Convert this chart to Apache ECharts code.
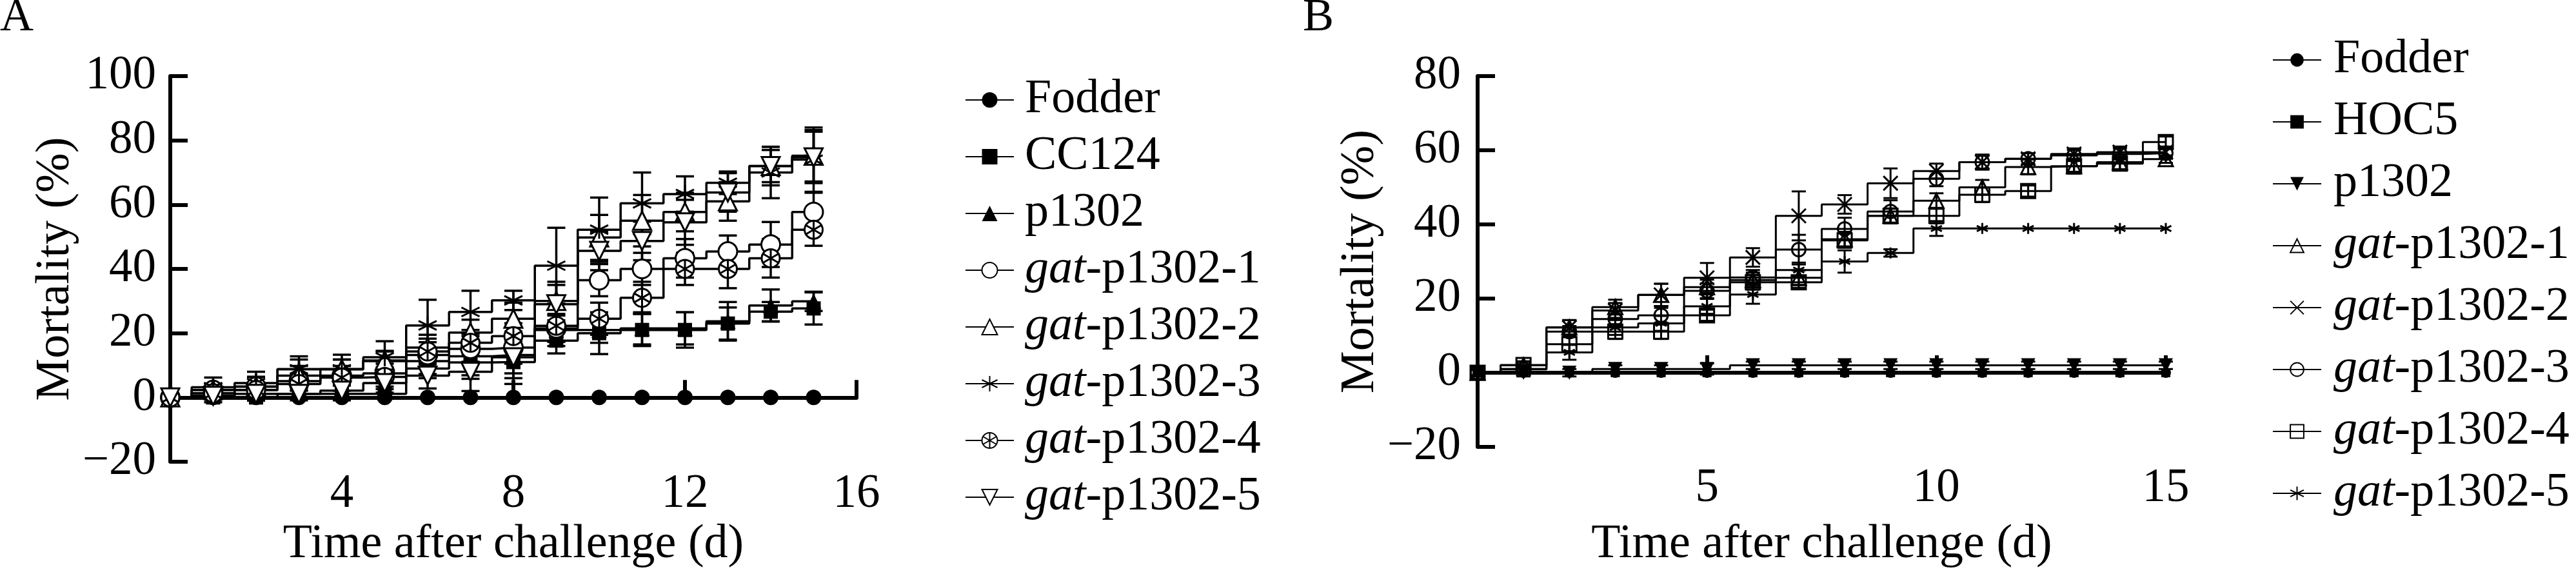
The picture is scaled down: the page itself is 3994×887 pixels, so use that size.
<!DOCTYPE html>
<html><head><meta charset="utf-8">
<script src="https://cdn.jsdelivr.net/npm/echarts@6/dist/echarts.min.js"></script>
<style>html,body{margin:0;padding:0;background:#fff}#c{width:3994px;height:887px}</style>
</head><body><div id="c"></div>
<script>
// ---------- data ----------
const days = [0,1,2,3,4,5,6,7,8,9,10,11,12,13,14,15];
const xTicksA = [0,4,8,12,16];
const yTicksA = [-20,0,20,40,60,80,100];
const xTicksB = [0,5,10,15];
const yTicksB = [-20,0,20,40,60,80];
const xTitle = 'Time after challenge (d)';
const yTitle = 'Mortality (%)';
const panelLabels = ['A', 'B'];

const namesA = ['Fodder','CC124','p1302','gat-p1302-1','gat-p1302-2','gat-p1302-3','gat-p1302-4','gat-p1302-5'];
const aFodder = [0,0,0,0,0,0,0,0,0,0,0,0,0,0,0,0];
const aCC124  = [0,0,0,1.1,1.1,1.1,9,10.9,11,17.7,20,21,21,23,26.7,27.7];
const aP1302  = [0,1.3,2.3,8.8,8.8,11.3,11.3,12.8,13.2,21,21,21.5,21.5,23.7,28.6,29.9];
const aGat1   = [0,2.3,3.4,5.1,6.8,7.5,13.2,15.1,15.5,21.5,36.5,40,43.3,45.4,47.6,57.7];
const aGat2   = [0,2.3,3.4,6.8,8.8,11.5,15.5,20.2,24.5,30,49.8,55,57.7,61,72,75.2];
const aGat3   = [0,3.2,4.5,8.8,8.8,12.5,22.4,26.6,30.2,41,52.2,60.4,63.3,66.8,70,74];
const aGat4   = [0,1.3,2.3,4.2,6.2,6.4,14.3,17,19.1,22.3,24.5,31,40,40,43.3,52.2];
const aGat5   = [0,0.5,1.1,1.1,2.1,4.5,6.8,8,12.5,29,45.6,48.7,54.5,63.8,72,74.7];
// standard errors, panel A
const aFodderErr = [0,0,0,0,0,0,0,0,0,0,0,0,0,0,0,0];
const aCC124Err  = [0,0.5,1,1,1,1.5,3,4,5,4,6.5,5,5.5,5,3,5];
const aP1302Err  = [0,1,1.5,3,3,3,4,7,9,5,4,5,5,6,5,3];
const aGat1Err   = [0,2,3,2,3,3,4,4,5,4,5,5,6,5,7,6];
const aGat2Err   = [0,2,3,3,3,3,4,4,5,6,7,8,6,6,5,8];
const aGat3Err   = [0,3,3.5,4,4.5,5,8,6.6,3,11.8,10,9.6,5.5,3.5,8,10];
const aGat4Err   = [0,2,2,2,2.5,3,4,4,4,5,5,5,5,6,6,5];
const aGat5Err   = [0,2,2,2,3,3,4,6,5,6,6,6,7,6,6,8];

const namesB = ['Fodder','HOC5','p1302','gat-p1302-1','gat-p1302-2','gat-p1302-3','gat-p1302-4','gat-p1302-5'];
const bFodder = [0,0,0,0,0,0,0,0,0,0,0,0,0,0,0,0];
const bHOC5   = [0,0,0,0,0,0,0,0,0,0,0,0,0,0,0,0];
const bP1302  = [0,0,0,1,1,1,2,2,2,2,2,2,2,2,2,2];
const bGat1   = [0,2,12.2,17.7,21,23.1,25,25.6,36,42.3,46.4,50,55.5,55.7,56.8,57.6];
const bGat2   = [0,1,12.2,16.8,21,25.6,31.1,42.3,45.4,51.1,54.4,56.8,57.7,59,59.5,59.5];
const bGat3   = [0,1,11.1,14.5,15.5,22.1,25.7,33.2,38.8,43.5,52.3,56.8,57.7,58.6,59,59.2];
const bGat4   = [0,2.1,7.7,11.1,11.1,15.5,24.4,24.4,35.7,42.3,42.3,48,49,55.7,56.4,62.2];
const bGat5   = [0,0.9,5.5,12.2,13.3,17.9,21.1,27.7,30,32.3,38.9,38.9,38.9,38.9,38.9,38.9];
// standard errors, panel B
const bFodderErr = [0,0,0,0,0,0,0,0,0,0,0,0,0,0,0,0];
const bHOC5Err   = [0,0,0,0,0,0,0,0,0,0,0,0,0,0,0,0];
const bP1302Err  = [0,1,1,1,1,1.5,1,1,1,1,1,1,1,1,1,1];
const bGat1Err   = [0,1,2,2,3,2,2,2,2,2,2,2,2,2,2,1];
const bGat2Err   = [1,1,2,2,3,4,2.5,6.6,2.5,4,2,2,1.5,1.5,1.5,1.5];
const bGat3Err   = [0,1,1.5,2,2,2,2,4,3,3,2,2,1.5,1.5,1.5,1.5];
const bGat4Err   = [0,1,2,2,2,1.5,2,1.5,2,2,2,2,1.5,1.5,1.5,1.5];
const bGat5Err   = [0,1,2,2,2,2,2.5,2,3,1,2,0,0,0,0,0];

// ---------- styling ----------
const FONT = 'Liberation Serif';
const ASTER = 'path://M0,-10L0,10M-8.66,-5L8.66,5M-8.66,5L8.66,-5';
const OTIMES = 'path://M-10,0A10,10,0,1,1,10,0A10,10,0,1,1,-10,0ZM0,-10L0,10M-8.66,-5L8.66,5M-8.66,5L8.66,-5';
const CROSS = 'path://M-10,-10L10,10M-10,10L10,-10';
const DOWN = 'path://M-10,-8.66L10,-8.66L0,8.66Z';
const T = 'rgba(0,0,0,0)';

const valsA = [aFodder,aCC124,aP1302,aGat1,aGat2,aGat3,aGat4,aGat5];
const errsA = [aFodderErr,aCC124Err,aP1302Err,aGat1Err,aGat2Err,aGat3Err,aGat4Err,aGat5Err];
const valsB = [bFodder,bHOC5,bP1302,bGat1,bGat2,bGat3,bGat4,bGat5];
const errsB = [bFodderErr,bHOC5Err,bP1302Err,bGat1Err,bGat2Err,bGat3Err,bGat4Err,bGat5Err];

const symA = [
  {s:'circle',size:24,fill:'#000',bw:0},
  {s:'rect',size:22,fill:'#000',bw:0},
  {s:'triangle',size:24,fill:'#000',bw:0},
  {s:'circle',size:29,fill:'#fff',bw:3},
  {s:'triangle',size:28,fill:'#fff',bw:3},
  {s:ASTER,size:28,fill:T,bw:3},
  {s:OTIMES,size:28,fill:'#fff',bw:3},
  {s:DOWN,size:28,fill:'#fff',bw:3}
];
const symB = [
  {s:'circle',size:16,fill:'#000',bw:0},
  {s:'rect',size:14,fill:'#000',bw:0},
  {s:DOWN,size:22,fill:'#000',bw:0},
  {s:'triangle',size:22,fill:T,bw:3},
  {s:CROSS,size:22,fill:T,bw:3},
  {s:'circle',size:21,fill:T,bw:3},
  {s:'rect',size:22,fill:T,bw:3},
  {s:ASTER,size:17,fill:T,bw:3}
];

function mkLine(name, vals, gi, sp, lw) {
  return {
    type:'line', name, xAxisIndex:gi, yAxisIndex:gi,
    data: days.map((d,i)=>[d, vals[i]]),
    step:'middle', symbol: sp.s, symbolSize: sp.size, showAllSymbol:true, clip:false,
    lineStyle:{color:'#000', width:lw},
    itemStyle:{color:sp.fill, borderColor:'#000', borderWidth:sp.bw},
    emphasis:{disabled:true}, z:3
  };
}
function mkErr(gi, vals, errs, cap, lw) {
  const data = [];
  vals.forEach((v,k)=>days.forEach((d,i)=>{ if (errs[k][i] > 0) data.push([d, v[i], errs[k][i]]); }));
  return {
    type:'custom', xAxisIndex:gi, yAxisIndex:gi, data, z:2, silent:true, clip:false,
    encode:{x:0, y:1},
    renderItem:(p, api)=>{
      const x = api.value(0), y = api.value(1), e = api.value(2);
      const t = api.coord([x, y+e]), b = api.coord([x, y-e]);
      const st = {stroke:'#000', lineWidth:lw};
      return {type:'group', children:[
        {type:'line', shape:{x1:t[0],y1:t[1],x2:b[0],y2:b[1]}, style:st},
        {type:'line', shape:{x1:t[0]-cap,y1:t[1],x2:t[0]+cap,y2:t[1]}, style:st},
        {type:'line', shape:{x1:b[0]-cap,y1:b[1],x2:b[0]+cap,y2:b[1]}, style:st}
      ]};
    }
  };
}
function xAx(gi, ticks, gap, margin) {
  return {
    type:'value', gridIndex:gi, min:ticks[0], max:ticks[ticks.length-1], interval:ticks[1]-ticks[0],
    name:xTitle, nameLocation:'middle', nameGap:gap,
    nameTextStyle:{fontFamily:FONT, fontSize:74, color:'#000'},
    axisLine:{onZero:true, lineStyle:{color:'#000', width:6}},
    axisTick:{inside:true, length:27, lineStyle:{color:'#000', width:6}},
    axisLabel:{fontFamily:FONT, fontSize:73, color:'#000', margin,
      formatter:v=> ticks.indexOf(v) > 0 ? String(v) : ''},
    splitLine:{show:false}
  };
}
function yAx(gi, ticks, gap, margin) {
  return {
    type:'value', gridIndex:gi, min:ticks[0], max:ticks[ticks.length-1], interval:ticks[1]-ticks[0],
    name:yTitle, nameLocation:'middle', nameGap:gap,
    nameTextStyle:{fontFamily:FONT, fontSize:74, color:'#000'},
    axisLine:{show:true, onZero:false, lineStyle:{color:'#000', width:6}},
    axisTick:{show:true, inside:true, length:27, lineStyle:{color:'#000', width:6}},
    axisLabel:{fontFamily:FONT, fontSize:73, color:'#000', margin,
      formatter:v=> v < 0 ? '\u2212' + Math.abs(v) : String(v)},
    splitLine:{show:false}
  };
}
function mkLegend(names, prefix, left, top, gap, ih, pad) {
  const base = {fontFamily:FONT, fontSize:74, color:'#000', lineHeight:80};
  return {
    data: names.map(n=>prefix+n), orient:'vertical', left, top, itemGap:gap,
    itemWidth:75, itemHeight:ih, selectedMode:false,
    formatter: n => { const s = n.slice(prefix.length);
      return s.startsWith('gat') ? '{i|gat}{n|' + s.slice(3) + '}' : '{f|' + s + '}'; },
    textStyle: Object.assign({}, base, {rich:{
      i: Object.assign({}, base, {fontStyle:'italic', padding:[0,0,0,pad]}),
      f: Object.assign({}, base, {padding:[0,0,0,pad]}),
      n: Object.assign({}, base)
    }})
  };
}

const series = [];
namesA.forEach((n,k)=>series.push(mkLine('A:'+n, valsA[k], 0, symA[k], 3.5)));
namesB.forEach((n,k)=>series.push(mkLine('B:'+n, valsB[k], 1, symB[k], 3)));
series.push(mkErr(0, valsA, errsA, 14, 3.5));
series.push(mkErr(1, valsB, errsB, 11, 3));

const option = {
  animation:false,
  backgroundColor:'#fff',
  grid:[
    {left:264, top:118, width:1064, height:709},
    {left:2291, top:118, width:1067, height:710}
  ],
  xAxis:[xAx(0, xTicksA, 92, 14), xAx(1, xTicksB, 115, 28)],
  yAxis:[yAx(0, yTicksA, 136, 22), yAx(1, yTicksB, 138, 26)],
  legend:[
    mkLegend(namesA, 'A:', 1491, 110, 8, 30, 12),
    mkLegend(namesB, 'B:', 3518, 48, 16, 26, 14)
  ],
  graphic:[
    {type:'text', left:0, top:-8, style:{text:panelLabels[0], font:'72px "Liberation Serif"', fill:'#000'}},
    {type:'text', left:2020, top:-8, style:{text:panelLabels[1], font:'72px "Liberation Serif"', fill:'#000'}}
  ],
  series
};
const chart = echarts.init(document.getElementById('c'), null, {renderer:'canvas'});
chart.setOption(option);
</script></body></html>
